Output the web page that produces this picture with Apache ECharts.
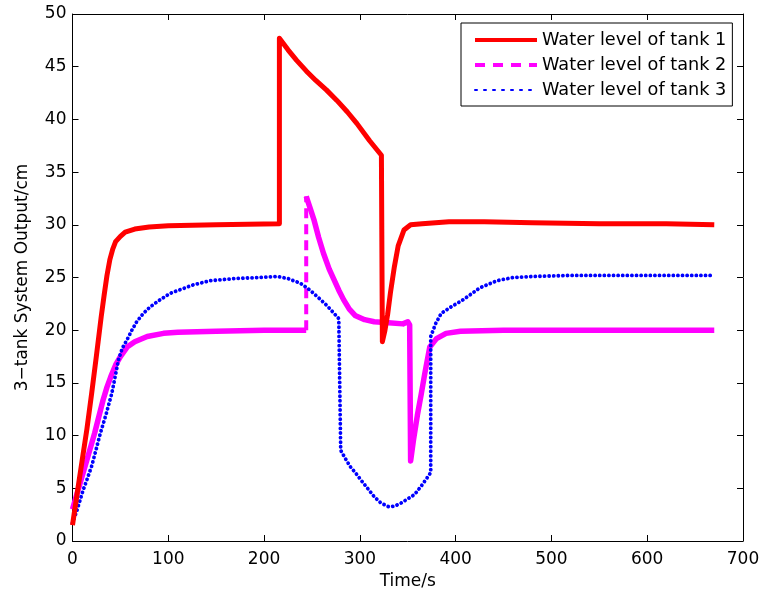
<!DOCTYPE html>
<html>
<head>
<meta charset="utf-8">
<script src="https://cdn.jsdelivr.net/npm/echarts@6/dist/echarts.min.js"></script>
<style>
html,body{margin:0;padding:0;background:#fff;}
#chart{width:763px;height:598px;}
</style>
</head>
<body>
<div id="chart"></div>
<script>
// ---- data (time in s, level in cm) ----
var seriesNames = ['Water level of tank 1', 'Water level of tank 2', 'Water level of tank 3'];
var xTicks = [0, 100, 200, 300, 400, 500, 600, 700];
var yTicks = [0, 5, 10, 15, 20, 25, 30, 35, 40, 45, 50];

var tank1T = [0, 5, 10, 15, 20, 25, 30, 33, 36, 39, 42, 45, 50, 55, 65, 80, 100, 150, 216, 216, 225, 234, 244, 254, 265, 276, 287, 297, 310, 322.5, 323.5, 326, 329, 332, 336, 340, 346, 353, 365, 393, 430, 480, 550, 620, 670];
var tank1V = [1.5, 4.6, 7.6, 10.6, 14.0, 17.6, 21.3, 23.3, 25.2, 26.7, 27.7, 28.4, 28.9, 29.3, 29.6, 29.8, 29.9, 30.0, 30.1, 47.7, 46.6, 45.6, 44.6, 43.7, 42.8, 41.8, 40.7, 39.6, 38.0, 36.6, 18.9, 19.9, 21.5, 23.6, 26.0, 28.0, 29.5, 30.0, 30.1, 30.3, 30.3, 30.2, 30.1, 30.1, 30.0];

var tank2T = [0, 8, 16, 23, 32, 36, 40, 45, 50, 57, 65, 78, 95, 110, 150, 200, 244, 244, 248, 252, 257, 262, 268, 273, 278, 283, 289, 295, 305, 315, 330, 345, 350, 352, 353, 356, 360, 364, 368, 373, 380, 390, 405, 450, 550, 670];
var tank2V = [3.0, 5.5, 8.0, 10.2, 13.4, 14.6, 15.6, 16.7, 17.5, 18.4, 18.9, 19.4, 19.7, 19.8, 19.9, 20.0, 20.0, 32.7, 31.6, 30.5, 28.8, 27.3, 25.8, 24.8, 23.8, 22.9, 22.0, 21.4, 21.0, 20.8, 20.7, 20.6, 20.8, 20.5, 7.6, 9.6, 11.9, 13.9, 16.0, 18.4, 19.2, 19.7, 19.9, 20.0, 20.0, 20.0];

var tank3T = [0, 5, 11, 15, 20, 25, 29, 35, 41, 45, 48, 52, 57, 62, 67, 74, 81, 90, 102, 114, 126, 144, 170, 195, 214, 225, 238, 248, 259, 266, 273, 278, 280, 280, 285, 290, 296, 301, 308, 315, 322, 330, 336, 343, 350, 357, 364, 371, 374, 374, 379, 385, 395, 408, 425, 443, 460, 480, 520, 600, 670];
var tank3V = [1.7, 3.0, 4.8, 5.8, 7.1, 8.8, 10.2, 12.0, 14.0, 15.8, 17.2, 18.3, 19.1, 20.0, 20.8, 21.6, 22.2, 22.8, 23.5, 23.9, 24.3, 24.7, 24.9, 25.0, 25.1, 24.9, 24.45, 23.8, 22.9, 22.3, 21.6, 21.1, 21.0, 8.6, 7.8, 7.05, 6.4, 5.8, 5.0, 4.2, 3.6, 3.25, 3.3, 3.6, 4.0, 4.4, 5.2, 6.1, 6.5, 19.4, 20.6, 21.6, 22.2, 22.9, 24.0, 24.7, 25.0, 25.1, 25.2, 25.2, 25.2];

function pairs(t, v) { return t.map(function (x, i) { return [x, v[i]]; }); }

// tank 2: the first vertical jump is drawn dashed, the rest solid
var d2 = pairs(tank2T, tank2V);
var jumpIdx = -1;
for (var i = 0; i < tank2T.length - 1; i++) { if (tank2T[i] === tank2T[i + 1]) { jumpIdx = i; break; } }
var tank2Jump = [d2[jumpIdx], d2[jumpIdx + 1]];
var tank2Solid = d2.slice(0, jumpIdx + 1).concat([[null, null]], d2.slice(jumpIdx + 1));

var FONT = 'DejaVu Sans';
var chart = echarts.init(document.getElementById('chart'), null, { renderer: 'canvas' });

var axisCommon = {
  type: 'value',
  axisLine: { show: true, onZero: false, lineStyle: { color: '#000', width: 1 } },
  axisTick: { show: true, inside: true, length: 6, lineStyle: { color: '#000', width: 1 } },
  splitLine: { show: false }
};

var hideSym = { color: 'rgba(0,0,0,0)', borderWidth: 0, opacity: 0 };

var option = {
  animation: false,
  backgroundColor: '#fff',
  grid: { left: 72.5, right: 20, top: 14, bottom: 57, containLabel: false },
  xAxis: [
    Object.assign({}, axisCommon, {
      min: xTicks[0], max: xTicks[xTicks.length - 1], interval: xTicks[1] - xTicks[0],
      position: 'bottom',
      name: 'Time/s', nameLocation: 'middle', nameGap: 30,
      nameTextStyle: { fontFamily: FONT, fontSize: 17, color: '#000' },
      axisLabel: { fontFamily: FONT, fontSize: 17, color: '#000', margin: 10 }
    }),
    Object.assign({}, axisCommon, {
      min: xTicks[0], max: xTicks[xTicks.length - 1], interval: xTicks[1] - xTicks[0],
      position: 'top', axisLabel: { show: false }
    })
  ],
  yAxis: [
    Object.assign({}, axisCommon, {
      min: yTicks[0], max: yTicks[yTicks.length - 1], interval: yTicks[1] - yTicks[0],
      position: 'left',
      name: '3\u2212tank System Output/cm', nameLocation: 'middle', nameGap: 41,
      nameTextStyle: { fontFamily: FONT, fontSize: 17, color: '#000' },
      axisLabel: { fontFamily: FONT, fontSize: 17, color: '#000', margin: 6 }
    }),
    Object.assign({}, axisCommon, {
      min: yTicks[0], max: yTicks[yTicks.length - 1], interval: yTicks[1] - yTicks[0],
      position: 'right', axisLabel: { show: false }
    })
  ],
  legend: {
    orient: 'vertical',
    left: 461, top: 23,
    padding: [8, 6, 7, 12],
    itemWidth: 62, itemHeight: 18, itemGap: 7,
    backgroundColor: '#fff', borderColor: '#000', borderWidth: 1, borderRadius: 0,
    textStyle: { fontFamily: FONT, fontSize: 17.7, color: '#000' },
    data: [
      { name: seriesNames[0], itemStyle: hideSym, lineStyle: { width: 4, type: 'solid' } },
      { name: seriesNames[1], itemStyle: hideSym, lineStyle: { width: 4, type: [10, 8] } },
      { name: seriesNames[2], itemStyle: hideSym, lineStyle: { width: 2, type: [2, 7] } }
    ]
  },
  series: [
    {
      name: seriesNames[1], type: 'line', data: tank2Jump,
      symbol: 'none', showSymbol: false, z: 2,
      lineStyle: { color: '#ff00ff', width: 4, type: [10, 6] }, itemStyle: { color: '#ff00ff' }
    },
    {
      name: seriesNames[1], type: 'line', data: tank2Solid, connectNulls: false,
      symbol: 'none', showSymbol: false, z: 2,
      lineStyle: { color: '#ff00ff', width: 5.5, type: 'solid', join: 'round' }, itemStyle: { color: '#ff00ff' }
    },
    {
      name: seriesNames[2], type: 'line', data: pairs(tank3T, tank3V),
      symbol: 'none', showSymbol: false, z: 3,
      lineStyle: { color: '#0000ff', width: 3.8, type: [0.1, 4.5], cap: 'round' }, itemStyle: { color: '#0000ff' }
    },
    {
      name: seriesNames[0], type: 'line', data: pairs(tank1T, tank1V),
      symbol: 'none', showSymbol: false, z: 4,
      lineStyle: { color: '#ff0000', width: 5, type: 'solid', join: 'round' }, itemStyle: { color: '#ff0000' }
    }
  ]
};
chart.setOption(option);
</script>
</body>
</html>
